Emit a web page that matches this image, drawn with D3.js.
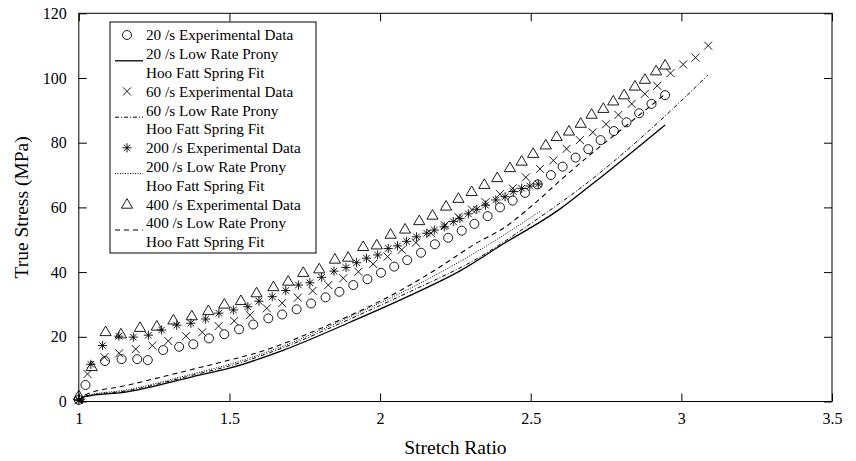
<!DOCTYPE html>
<html><head><meta charset="utf-8">
<script src="https://cdn.jsdelivr.net/npm/d3@7/dist/d3.min.js"></script>
<style>
body{margin:0;background:#fff;}
text{font-family:"Liberation Serif","Times New Roman",serif;fill:#000;}
</style>
</head><body>
<svg id="chart" width="856" height="461"></svg>
<script>
// ---------- data ----------
const xTicks = [1, 1.5, 2, 2.5, 3, 3.5];
const yTicks = [0, 20, 40, 60, 80, 100, 120];

// 20 /s experimental (circles)
const exp20X = [1.0,1.022,1.087,1.142,1.194,1.229,1.28,1.333,1.38,1.432,1.483,1.532,1.579,1.629,1.675,1.723,1.771,1.819,1.865,1.911,1.958,2.003,2.047,2.09,2.136,2.182,2.226,2.271,2.313,2.357,2.398,2.44,2.481,2.523,2.567,2.606,2.649,2.691,2.732,2.776,2.818,2.86,2.901,2.946];
const exp20Y = [0.5,5.1,12.5,13.1,13.1,12.8,15.9,16.9,17.7,19.5,20.8,22.3,23.8,25.7,26.9,28.5,30.3,32.2,33.9,36.0,37.8,39.8,41.7,43.7,46.0,48.6,50.6,52.8,54.9,57.3,60.0,62.1,64.5,67.1,70.0,72.6,75.4,78.0,80.8,83.6,86.3,89.1,92.0,94.7];

// 60 /s experimental (x marks)
const exp60X = [1.0,1.029,1.085,1.134,1.189,1.244,1.297,1.356,1.41,1.464,1.516,1.568,1.624,1.675,1.727,1.776,1.828,1.878,1.928,1.977,2.025,2.072,2.119,2.169,2.215,2.26,2.305,2.35,2.398,2.44,2.484,2.531,2.575,2.619,2.663,2.706,2.75,2.791,2.835,2.879,2.92,2.964,3.006,3.047,3.089];
const exp60Y = [0.5,8.5,13.7,14.9,16.2,17.3,18.7,20.2,21.4,23.3,24.9,26.7,28.8,30.4,32.1,34.2,36.0,38.1,40.1,42.5,44.8,46.9,49.1,52.0,54.5,57.0,59.3,61.6,64.1,65.9,69.3,71.9,74.5,78.1,80.8,83.2,85.7,88.6,92.0,95.1,97.6,101.5,104.2,106.3,110.0];

// 200 /s experimental (stars)
const exp200X = [1.0,1.04,1.079,1.133,1.181,1.231,1.275,1.325,1.372,1.421,1.465,1.513,1.561,1.598,1.642,1.687,1.729,1.767,1.806,1.847,1.887,1.922,1.955,1.992,2.027,2.058,2.088,2.121,2.155,2.18,2.213,2.243,2.265,2.293,2.321,2.35,2.384,2.415,2.442,2.47,2.497,2.525];
const exp200Y = [0.3,11.5,17.3,20.2,19.9,20.5,22.1,23.6,24.2,25.5,27.3,28.3,29.3,31.0,32.4,34.3,36.0,36.7,38.4,40.3,41.4,42.9,44.3,45.3,47.3,48.1,49.5,50.9,52.0,53.0,54.0,55.6,56.6,58.0,59.4,60.7,62.3,63.3,64.9,65.9,66.6,67.2];

// 400 /s experimental (triangles)
const exp400X = [1.0,1.043,1.089,1.14,1.203,1.259,1.314,1.375,1.43,1.483,1.538,1.59,1.646,1.695,1.745,1.798,1.85,1.894,1.944,1.989,2.035,2.083,2.13,2.174,2.219,2.26,2.304,2.346,2.389,2.431,2.47,2.508,2.55,2.586,2.627,2.666,2.702,2.741,2.774,2.81,2.846,2.879,2.916,2.946];
const exp400Y = [1.8,10.8,21.6,20.9,22.9,23.3,25.2,26.5,28.1,30.1,31.2,33.6,35.5,37.2,39.9,41.0,44.0,44.6,47.9,48.4,51.7,53.3,55.9,57.6,60.4,62.8,64.9,67.1,69.2,72.3,74.3,76.7,79.3,81.9,83.6,86.0,88.8,90.6,92.9,94.8,97.5,99.6,102.2,104.0];

// Low Rate Prony Hoo Fatt Spring fits
const fit20X = [1,1.02,1.16,1.38,1.5,1.68,1.9,2.1,2.27,2.4,2.6,2.7,2.946];
const fit20Y = [0,1.5,3.0,7.7,10.3,15.9,24.5,32.8,40.6,48.2,59.7,66.9,85.5];
const fit60X = [1,1.02,1.16,1.38,1.5,1.68,1.9,2.1,2.33,2.5,2.7,2.95,3.088];
const fit60Y = [0,1.6,3.3,8.2,11.0,16.7,25.5,34.0,44.6,55.0,68.5,88.6,100.9];
const fit200X = [1,1.02,1.16,1.38,1.5,1.68,1.9,2.1,2.33,2.53];
const fit200Y = [0,1.7,3.6,8.6,11.5,17.2,26.2,35.0,46.8,58.7];
const fit400X = [1,1.02,1.16,1.38,1.5,1.6,1.8,2.09,2.18,2.33,2.4,2.51,2.6,2.7,2.8,2.946];
const fit400Y = [0,2.0,5.0,10.0,12.8,15.3,22.5,35.5,40.5,49.5,53.0,61.0,68.5,76.5,84.0,95.0];

const legendLabels = [
  "20 /s Experimental Data","20 /s Low Rate Prony","Hoo Fatt Spring Fit",
  "60 /s Experimental Data","60 /s Low Rate Prony","Hoo Fatt Spring Fit",
  "200 /s Experimental Data","200 /s Low Rate Prony","Hoo Fatt Spring Fit",
  "400 /s Experimental Data","400 /s Low Rate Prony","Hoo Fatt Spring Fit"
];

// ---------- drawing ----------
const svg = d3.select("#chart");
svg.append("rect").attr("width",856).attr("height",461).attr("fill","#fff");

const L = 78.8, R = 832, T = 13.3, B = 401.5;
const x = d3.scaleLinear().domain([1,3.5]).range([L,R]);
const y = d3.scaleLinear().domain([0,120]).range([B,T]);

const tickFs = 16, legFs = 15.2, titleFs = 19.5;
const axB = svg.append("g").attr("transform",`translate(0,${B})`)
  .call(d3.axisBottom(x).tickValues(xTicks).tickFormat(d3.format("")).tickSize(-8).tickPadding(11));
const axL = svg.append("g").attr("transform",`translate(${L},0)`)
  .call(d3.axisLeft(y).tickValues(yTicks).tickSize(-8).tickPadding(12));
const axT = svg.append("g").attr("transform",`translate(0,${T})`)
  .call(d3.axisTop(x).tickValues(xTicks).tickFormat("").tickSize(-8));
const axR = svg.append("g").attr("transform",`translate(${R},0)`)
  .call(d3.axisRight(y).tickValues(yTicks).tickFormat("").tickSize(-8));
[axB,axL,axT,axR].forEach(g=>{
  g.select(".domain").remove();
  g.selectAll(".tick line").attr("stroke","#000").attr("stroke-width",1);
  g.selectAll("text").attr("font-size",tickFs).attr("font-family","Liberation Serif");
});
svg.append("rect").attr("x",L).attr("y",T).attr("width",R-L).attr("height",B-T)
  .attr("fill","none").attr("stroke","#000").attr("stroke-width",1);

// axis titles
svg.append("text").attr("x",(L+R)/2).attr("y",454).attr("text-anchor","middle")
  .attr("font-size",titleFs).text("Stretch Ratio");
svg.append("text").attr("transform",`translate(28,${(T+B)/2}) rotate(-90)`)
  .attr("text-anchor","middle").attr("font-size",titleFs).text("True Stress (MPa)");

// fits
const line = d3.line().x(d=>x(d[0])).y(d=>y(d[1])).curve(d3.curveMonotoneX);
const fits = [
  {xs:fit20X, ys:fit20Y, dash:null, w:1.3},
  {xs:fit60X, ys:fit60Y, dash:"4,2,1,2", w:1},
  {xs:fit200X, ys:fit200Y, dash:"1,1.5", w:1},
  {xs:fit400X, ys:fit400Y, dash:"5,4", w:1.1}
];
fits.forEach(f=>{
  svg.append("path").datum(f.xs.map((v,i)=>[v,f.ys[i]]))
    .attr("d",line).attr("fill","none").attr("stroke","#000")
    .attr("stroke-width",f.w).attr("stroke-dasharray",f.dash);
});

// marker shapes
const markerPaths = {
  circle: "M4.5,0A4.5,4.5 0 1,1 -4.5,0A4.5,4.5 0 1,1 4.5,0Z",
  cross: "M-4,-4L4,4M-4,4L4,-4",
  star: "M-4.6,0H4.6M0,-4.6V4.6M-3.3,-3.3L3.3,3.3M-3.3,3.3L3.3,-3.3",
  tri: "M0,-5.6L5.6,4L-5.6,4Z"
};
const sets = [
  {xs:exp20X, ys:exp20Y, m:"circle"},
  {xs:exp60X, ys:exp60Y, m:"cross"},
  {xs:exp200X, ys:exp200Y, m:"star"},
  {xs:exp400X, ys:exp400Y, m:"tri"}
];
sets.forEach(s=>{
  svg.append("g").selectAll("path").data(s.xs.map((v,i)=>[v,s.ys[i]])).join("path")
    .attr("transform",d=>`translate(${x(d[0])},${y(d[1])})`)
    .attr("d",markerPaths[s.m]).attr("fill","none").attr("stroke","#000").attr("stroke-width",0.9);
});

// legend
const lg = svg.append("g");
lg.append("rect").attr("x",110).attr("y",22).attr("width",206).attr("height",231)
  .attr("fill","#fff").attr("stroke","#000").attr("stroke-width",1);
const row0 = 35, rowH = 18.8;
legendLabels.forEach((t,i)=>{
  lg.append("text").attr("x",146).attr("y",row0+i*rowH).attr("dy","0.35em")
    .attr("font-size",legFs).text(t);
});
sets.forEach((s,k)=>{
  lg.append("path").attr("transform",`translate(127,${row0+3*k*rowH})`)
    .attr("d",markerPaths[s.m]).attr("fill","none").attr("stroke","#000").attr("stroke-width",0.9);
  const ly = row0+(3*k+1)*rowH + 7;
  lg.append("line").attr("x1",115).attr("x2",143).attr("y1",ly).attr("y2",ly)
    .attr("stroke","#000").attr("stroke-width",fits[k].w).attr("stroke-dasharray",fits[k].dash);
});
</script>
</body></html>
